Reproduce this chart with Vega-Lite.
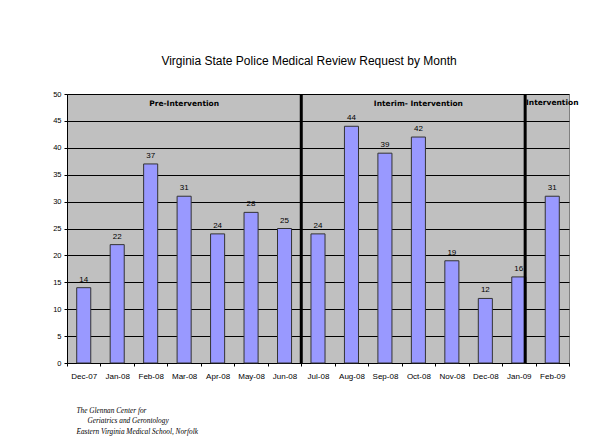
{
  "$schema": "https://vega.github.io/schema/vega-lite/v6.json",
  "autosize": "none",
  "width": 502,
  "height": 269,
  "padding": {"left": 67, "top": 94, "right": 25, "bottom": 81},
  "background": "white",
  "config": {
    "font": "Liberation Sans",
    "view": {"fill": "#C0C0C0", "stroke": "#808080", "strokeWidth": 1}
  },
  "title": {
    "text": "Virginia State Police Medical Review Request by Month",
    "font": "Liberation Sans",
    "fontSize": 12,
    "fontWeight": "normal",
    "color": "#000000",
    "anchor": "middle",
    "dx": -9,
    "offset": 22
  },
  "datasets": {
    "bars": [
      {"month": "Dec-07", "requests": 14},
      {"month": "Jan-08", "requests": 22},
      {"month": "Feb-08", "requests": 37},
      {"month": "Mar-08", "requests": 31},
      {"month": "Apr-08", "requests": 24},
      {"month": "May-08", "requests": 28},
      {"month": "Jun-08", "requests": 25},
      {"month": "Jul-08", "requests": 24},
      {"month": "Aug-08", "requests": 44},
      {"month": "Sep-08", "requests": 39},
      {"month": "Oct-08", "requests": 42},
      {"month": "Nov-08", "requests": 19},
      {"month": "Dec-08", "requests": 12},
      {"month": "Jan-09", "requests": 16},
      {"month": "Feb-09", "requests": 31}
    ],
    "sections": [
      {"month": "Mar-08", "label": "Pre-Intervention", "requests": 48.2},
      {"month": "Oct-08", "label": "Interim- Intervention", "requests": 48.2},
      {"month": "Feb-09", "label": "Intervention", "requests": 48.4}
    ],
    "divider1": [{"month": "Jul-08"}],
    "divider2": [{"month": "Jan-09"}]
  },
  "encoding": {
    "x": {
      "field": "month",
      "type": "ordinal",
      "scale": {
        "domain": ["Dec-07","Jan-08","Feb-08","Mar-08","Apr-08","May-08","Jun-08","Jul-08","Aug-08","Sep-08","Oct-08","Nov-08","Dec-08","Jan-09","Feb-09"],
        "paddingInner": 0,
        "paddingOuter": 0
      },
      "axis": {
        "title": ["The Glennan Center for", "\u200b\u00a0\u00a0\u00a0\u00a0\u00a0\u00a0Geriatrics and Gerontology", "Eastern Virginia Medical School, Norfolk"],
        "titleFont": "Liberation Serif",
        "titleFontStyle": "italic",
        "titleFontWeight": "normal",
        "titleFontSize": 7.3,
        "titleColor": "#000000",
        "titleAlign": "left",
        "titleAnchor": "start",
        "titleBaseline": "top",
        "titleLineHeight": 10.5,
        "titleX": 9,
        "titleY": 43,
        "labelAngle": 0,
        "labelFontSize": 8,
        "labelColor": "#000000",
        "labelPadding": 6,
        "tickBand": "extent",
        "tickSize": 3,
        "tickColor": "#000000",
        "domainColor": "#000000",
        "grid": false
      }
    },
    "y": {
      "field": "requests",
      "type": "quantitative",
      "scale": {"domain": [0, 50], "nice": false},
      "axis": {
        "title": null,
        "values": [0,5,10,15,20,25,30,35,40,45,50],
        "labelOverlap": false,
        "labelFontSize": 7.5,
        "labelColor": "#000000",
        "labelPadding": 3,
        "tickSize": 3,
        "tickColor": "#000000",
        "domainColor": "#000000",
        "grid": true,
        "gridColor": "#000000",
        "gridOpacity": 1,
        "gridWidth": 1
      }
    }
  },
  "layer": [
    {
      "data": {"name": "bars"},
      "mark": {"type": "bar", "fill": "#9999FF", "stroke": "#333333", "strokeWidth": 1, "width": {"band": 0.42}}
    },
    {
      "data": {"name": "bars"},
      "mark": {"type": "text", "baseline": "bottom", "dy": -4, "fontSize": 8, "color": "#000000"},
      "encoding": {
        "text": {"field": "requests", "type": "quantitative"}
      }
    },
    {
      "data": {"name": "divider1"},
      "mark": {"type": "rule", "color": "#000000", "strokeWidth": 3},
      "encoding": {
        "x": {"field": "month", "type": "ordinal", "bandPosition": 0},
        "y": null
      }
    },
    {
      "data": {"name": "divider2"},
      "mark": {"type": "rule", "color": "#000000", "strokeWidth": 3},
      "encoding": {
        "x": {"field": "month", "type": "ordinal", "bandPosition": 0.69},
        "y": null
      }
    },
    {
      "data": {"name": "sections"},
      "mark": {"type": "text", "font": "DejaVu Sans", "fontSize": 7.5, "fontWeight": "bold", "color": "#000000", "baseline": "middle"},
      "encoding": {
        "text": {"field": "label", "type": "nominal"}
      }
    }
  ]
}
